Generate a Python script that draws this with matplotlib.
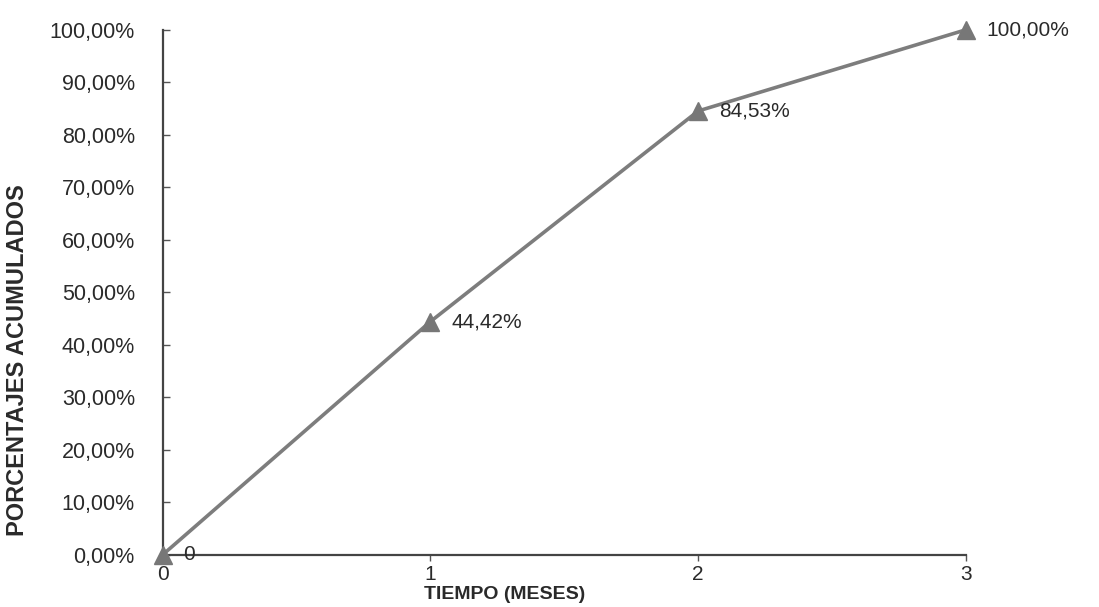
import matplotlib.pyplot as plt
from matplotlib.ticker import FuncFormatter

# data
meses = [0, 1, 2, 3]
acumulado = [0.0, 44.42, 84.53, 100.0]
etiquetas = ["0", "44,42%", "84,53%", "100,00%"]
y_ticks = list(range(0, 101, 10))

plt.rcParams['font.family'] = ['Liberation Sans', 'DejaVu Sans']

fig = plt.figure(figsize=(10.99, 6.07), dpi=100)
ax = fig.add_axes([0.148, 0.086, 0.731, 0.865])

ax.plot(meses, acumulado, color='#7d7d7d', linewidth=2.6,
        marker='^', markersize=13, markerfacecolor='#777777',
        markeredgecolor='#777777', clip_on=False, zorder=3)

for x, y, txt in zip(meses, acumulado, etiquetas):
    ax.annotate(txt, (x, y), xytext=(15, 0), textcoords='offset points',
                va='center', ha='left', fontsize=15, color='#2a2a2a')

ax.set_xlim(0, 3)
ax.set_ylim(0, 100)
ax.set_xticks(meses)
ax.set_yticks(y_ticks)
ax.yaxis.set_major_formatter(FuncFormatter(lambda v, p: f"{v:.2f}%".replace('.', ',')))

for side in ('top', 'right'):
    ax.spines[side].set_visible(False)
for side in ('left', 'bottom'):
    ax.spines[side].set_color('#444444')
    ax.spines[side].set_linewidth(1.6)

ax.tick_params(axis='y', direction='in', length=5, width=1, colors='#555555',
               labelcolor='#2a2a2a', labelsize=15.5, pad=20)
ax.tick_params(axis='x', direction='out', length=4, width=1, colors='#555555',
               labelcolor='#2a2a2a', labelsize=15, pad=3)

ax.set_xlabel("TIEMPO (MESES)", fontsize=14, fontweight='bold', color='#2a2a2a')
ax.xaxis.label.set_va('center')
ax.xaxis.set_label_coords(0.426, -0.075)

ax.set_ylabel("PORCENTAJES ACUMULADOS", fontsize=17, fontweight='bold', color='#2a2a2a')
ax.yaxis.label.set_va('center')
ax.yaxis.set_label_coords(-0.181, 0.37)

fig.savefig("out.png", dpi=100)
